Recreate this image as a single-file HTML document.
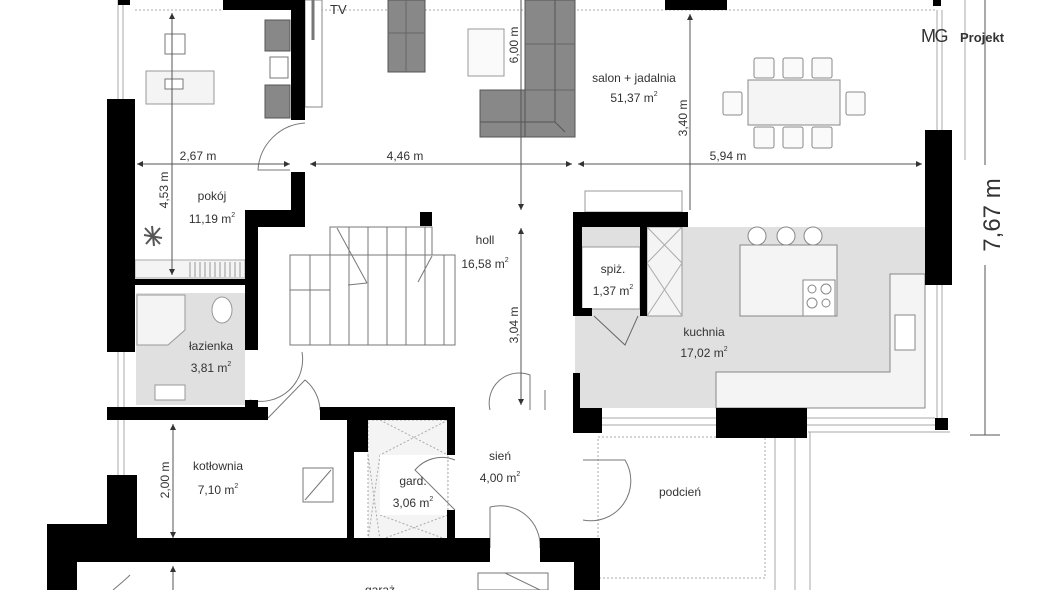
<!DOCTYPE html>
<html><head><meta charset="utf-8"><style>
html,body{margin:0;padding:0;background:#fff;width:1060px;height:590px;overflow:hidden}
svg{display:block}
text{font-family:"Liberation Sans",sans-serif;fill:#333}
</style></head><body>
<svg width="1060" height="590" viewBox="0 0 1060 590" xmlns="http://www.w3.org/2000/svg">
<rect x="575" y="227" width="350" height="181" fill="#e0e0e0"/>
<polygon points="890,274 925,274 925,408 716,408 716,372 890,372" fill="#f4f4f4" stroke="#888" stroke-width="1"/>
<rect x="136" y="293" width="109" height="112" fill="#e0e0e0"/>
<polygon points="137,295 185,295 185,330 168,345 137,345" fill="#f4f4f4" stroke="#999"/>
<ellipse cx="222" cy="310" rx="10" ry="13" fill="#fff" stroke="#999"/>
<rect x="155" y="385" width="30" height="15" fill="#fff" stroke="#999"/>
<g stroke="#aaa" fill="none" stroke-width="1">
<line x1="118" y1="0" x2="118" y2="99"/><line x1="123" y1="0" x2="123" y2="99"/>
<line x1="118" y1="352" x2="118" y2="475"/><line x1="124" y1="352" x2="124" y2="475"/>
<line x1="937" y1="10" x2="937" y2="130"/><line x1="942" y1="10" x2="942" y2="130"/>
<line x1="937" y1="285" x2="937" y2="420"/><line x1="942" y1="285" x2="942" y2="420"/>
<line x1="602" y1="418" x2="935" y2="418"/><line x1="602" y1="425" x2="935" y2="425"/>
<line x1="135" y1="10" x2="222" y2="10" stroke-dasharray="2,2"/>
<line x1="305" y1="10" x2="935" y2="10" stroke-dasharray="2,2"/>
<rect x="598" y="437" width="167" height="141" stroke-dasharray="2,2"/>
<line x1="775" y1="437" x2="775" y2="590"/><line x1="795" y1="432" x2="795" y2="590"/><line x1="810" y1="432" x2="810" y2="590"/>
<line x1="950" y1="432" x2="808" y2="432"/>
<line x1="965" y1="0" x2="965" y2="160"/>
</g>
<rect x="135" y="260" width="110" height="18" fill="#f4f4f4" stroke="#aaa"/>
<g stroke="#999"><line x1="190" y1="262" x2="190" y2="277"/><line x1="195" y1="262" x2="195" y2="277"/><line x1="200" y1="262" x2="200" y2="277"/><line x1="205" y1="262" x2="205" y2="277"/><line x1="210" y1="262" x2="210" y2="277"/><line x1="215" y1="262" x2="215" y2="277"/><line x1="220" y1="262" x2="220" y2="277"/><line x1="225" y1="262" x2="225" y2="277"/><line x1="230" y1="262" x2="230" y2="277"/><line x1="235" y1="262" x2="235" y2="277"/><line x1="240" y1="262" x2="240" y2="277"/></g>
<rect x="146" y="71" width="68" height="33" fill="#f4f4f4" stroke="#999"/>
<rect x="165" y="79" width="18" height="10" fill="#fff" stroke="#777"/>
<rect x="165" y="34" width="20" height="20" fill="#fff" stroke="#777"/>
<rect x="265" y="20" width="25" height="31" fill="#888" stroke="#555"/>
<rect x="270" y="57" width="18" height="21" fill="#fff" stroke="#777"/>
<rect x="265" y="85" width="25" height="33" fill="#888" stroke="#555"/>
<rect x="305" y="0" width="17" height="107" fill="#fff" stroke="#888"/>
<line x1="313" y1="0" x2="313" y2="40" stroke="#777" stroke-width="3"/>
<text x="330" y="14" font-size="13">TV</text>
<rect x="388" y="0" width="37" height="72" fill="#888" stroke="#555"/>
<line x1="406" y1="0" x2="406" y2="72" stroke="#666"/><line x1="388" y1="33" x2="425" y2="33" stroke="#666"/>
<rect x="468" y="29" width="36" height="47" fill="#fafafa" stroke="#999"/>
<rect x="480" y="90" width="95" height="47" fill="#888" stroke="#555"/>
<rect x="525" y="0" width="50" height="137" fill="#888" stroke="#555"/>
<line x1="525" y1="90" x2="575" y2="90" stroke="#666"/><line x1="555" y1="0" x2="555" y2="122" stroke="#555"/><line x1="555" y1="122" x2="565" y2="132" stroke="#555"/><line x1="480" y1="122" x2="555" y2="122" stroke="#555"/>
<line x1="525" y1="44" x2="575" y2="44" stroke="#666"/>
<rect x="748" y="80" width="92" height="45" fill="#f4f4f4" stroke="#888"/>
<g fill="#fafafa" stroke="#888">
<rect x="754" y="58" width="20" height="20" rx="2"/><rect x="783" y="58" width="20" height="20" rx="2"/><rect x="812" y="58" width="20" height="20" rx="2"/>
<rect x="754" y="127" width="20" height="21" rx="2"/><rect x="783" y="127" width="20" height="21" rx="2"/><rect x="812" y="127" width="20" height="21" rx="2"/>
<rect x="723" y="92" width="19" height="23" rx="2"/><rect x="846" y="92" width="19" height="23" rx="2"/>
</g>
<rect x="585" y="191" width="97" height="21" fill="#fff" stroke="#999"/>
<rect x="582" y="247" width="58" height="62" fill="#fff" stroke="#999"/>
<rect x="647" y="227" width="35" height="89" fill="#f4f4f4" stroke="#999"/>
<g stroke="#aaa"><line x1="647" y1="227" x2="682" y2="263"/><line x1="682" y1="227" x2="647" y2="263"/><line x1="647" y1="263" x2="682" y2="316"/><line x1="682" y1="263" x2="647" y2="316"/></g>
<rect x="740" y="245" width="97" height="71" fill="#f4f4f4" stroke="#888"/>
<rect x="803" y="280" width="32" height="36" fill="#fff" stroke="#888"/>
<g fill="#fff" stroke="#888"><circle cx="757" cy="236" r="9"/><circle cx="786" cy="236" r="9"/><circle cx="813" cy="236" r="9"/>
<circle cx="812" cy="289" r="4"/><circle cx="826" cy="289" r="5"/><circle cx="812" cy="303" r="5"/><circle cx="826" cy="303" r="4"/></g>
<rect x="895" y="315" width="20" height="35" fill="#fff" stroke="#888"/>
<path d="M594,316 L625,345 L638,316" fill="none" stroke="#666"/>
<g fill="none" stroke="#777">
<rect x="290" y="255" width="165" height="90"/>
<rect x="330" y="227" width="102" height="28"/>
<path d="M310,255V345M330,227V345M349,227V345M368,227V345M387,227V345M406,227V345M425,227V345M444,255V345"/>
<line x1="290" y1="290" x2="330" y2="290"/>
<line x1="337" y1="228" x2="367" y2="283"/><line x1="367" y1="283" x2="348" y2="285"/>
<line x1="432" y1="256" x2="418" y2="282"/>
</g>
<rect x="368" y="420" width="80" height="120" fill="#f4f4f4" stroke="#aaa" stroke-dasharray="2,2"/>
<g stroke="#aaa" stroke-dasharray="2,2"><line x1="380" y1="420" x2="448" y2="455"/><line x1="448" y1="420" x2="380" y2="455"/><line x1="380" y1="515" x2="448" y2="540"/><line x1="448" y1="515" x2="380" y2="540"/><line x1="368" y1="455" x2="380" y2="540"/><line x1="380" y1="455" x2="368" y2="540"/></g>
<rect x="380" y="455" width="67" height="60" fill="#fff"/>
<rect x="303" y="468" width="30" height="34" fill="#fff" stroke="#777"/><line x1="305" y1="500" x2="331" y2="470" stroke="#777"/>
<g fill="none" stroke="#777">
<path d="M305,123 A50,50 0 0 0 258,170 L290,170"/>
<path d="M250,400 A42,42 0 0 0 302,352"/>
<path d="M268,418 L305,380 A40,40 0 0 1 320,410"/>
<path d="M490,410 A30,30 0 0 1 530,375 L530,410"/>
<path d="M545,410 L545,390"/>
<path d="M455,460 A35,35 0 0 0 415,470 L455,510"/>
<path d="M583,460 L625,460 A40,40 0 0 1 583,520"/>
<path d="M490,507 L490,548 M490,507 A40,40 0 0 1 540,548"/>
<rect x="478" y="573" width="70" height="17"/>
<line x1="505" y1="573" x2="540" y2="590"/>
<path d="M113,590 Q125,580 130,575"/>
</g>
<g fill="#000">
<rect x="118" y="0" width="12" height="5"/>
<rect x="223" y="0" width="82" height="10"/>
<rect x="291" y="0" width="14" height="120"/>
<rect x="665" y="0" width="62" height="10"/>
<rect x="933" y="0" width="8" height="6"/>
<rect x="107" y="99" width="28" height="253"/>
<rect x="291" y="172" width="14" height="55"/>
<rect x="245" y="210" width="60" height="17"/>
<rect x="245" y="210" width="13" height="140"/>
<rect x="420" y="212" width="12" height="14"/>
<rect x="135" y="279" width="110" height="6"/>
<rect x="107" y="407" width="161" height="13"/>
<rect x="245" y="400" width="13" height="10"/>
<rect x="320" y="407" width="135" height="13"/>
<rect x="347" y="407" width="21" height="45"/>
<rect x="347" y="407" width="7" height="133"/>
<rect x="447" y="407" width="8" height="48"/>
<rect x="447" y="510" width="8" height="30"/>
<rect x="107" y="475" width="30" height="63"/>
<rect x="47" y="524" width="90" height="14"/>
<rect x="47" y="524" width="30" height="66"/>
<rect x="47" y="538" width="443" height="24"/>
<rect x="540" y="538" width="60" height="24"/>
<rect x="574" y="538" width="26" height="52"/>
<rect x="925" y="130" width="27" height="155"/>
<rect x="573" y="212" width="115" height="15"/>
<rect x="573" y="212" width="9" height="104"/>
<rect x="573" y="308" width="19" height="8"/>
<rect x="640" y="227" width="7" height="89"/>
<rect x="573" y="373" width="7" height="37"/>
<rect x="573" y="408" width="29" height="25"/>
<rect x="716" y="408" width="91" height="30"/>
<rect x="935" y="418" width="13" height="12"/>
</g>
<g stroke="#555" stroke-width="1" fill="none">
<line x1="137" y1="164" x2="290" y2="164"/><line x1="310" y1="164" x2="572" y2="164"/><line x1="578" y1="164" x2="922" y2="164"/>
<line x1="172" y1="13" x2="172" y2="275"/>
<line x1="521" y1="0" x2="521" y2="210"/><line x1="521" y1="228" x2="521" y2="405"/>
<line x1="690" y1="14" x2="690" y2="210"/>
<line x1="173" y1="424" x2="173" y2="538"/><line x1="173" y1="566" x2="173" y2="590"/>
<line x1="985" y1="0" x2="985" y2="165"/><line x1="985" y1="265" x2="985" y2="435"/><line x1="970" y1="435" x2="1000" y2="435"/>
</g>
<g fill="#333">
<polygon points="137,164 143,161 143,167"/><polygon points="290,164 284,161 284,167"/><polygon points="310,164 316,161 316,167"/>
<polygon points="572,164 566,161 566,167"/><polygon points="578,164 584,161 584,167"/><polygon points="922,164 916,161 916,167"/>
<polygon points="521,210 518,204 524,204"/><polygon points="521,228 518,234 524,234"/><polygon points="521,405 518,399 524,399"/>
<polygon points="690,14 687,20 693,20"/>
<polygon points="172,13 169,19 175,19"/><polygon points="172,275 169,269 175,269"/>
<polygon points="173,424 170,430 176,430"/><polygon points="173,538 170,532 176,532"/><polygon points="173,566 170,572 176,572"/>
</g>
<g font-size="12" text-anchor="middle">
<text x="198" y="160">2,67 m</text>
<text x="405" y="160">4,46 m</text>
<text x="728" y="160">5,94 m</text>
<text transform="translate(168,190) rotate(-90)">4,53 m</text>
<text transform="translate(518,45) rotate(-90)">6,00 m</text>
<text transform="translate(518,325) rotate(-90)">3,04 m</text>
<text transform="translate(687,118) rotate(-90)">3,40 m</text>
<text transform="translate(169,480) rotate(-90)">2,00 m</text>
<text x="634" y="82">salon + jadalnia</text>
<text x="634" y="102">51,37 m<tspan dy="-6" font-size="7">2</tspan></text>
<text x="212" y="200">pokój</text>
<text x="212" y="223">11,19 m<tspan dy="-6" font-size="7">2</tspan></text>
<text x="485" y="244">holl</text>
<text x="485" y="268">16,58 m<tspan dy="-6" font-size="7">2</tspan></text>
<text x="613" y="273">spiż.</text>
<text x="613" y="295">1,37 m<tspan dy="-6" font-size="7">2</tspan></text>
<text x="704" y="336">kuchnia</text>
<text x="704" y="357">17,02 m<tspan dy="-6" font-size="7">2</tspan></text>
<text x="211" y="350">łazienka</text>
<text x="211" y="372">3,81 m<tspan dy="-6" font-size="7">2</tspan></text>
<text x="218" y="470">kotłownia</text>
<text x="218" y="494">7,10 m<tspan dy="-6" font-size="7">2</tspan></text>
<text x="413" y="485">gard.</text>
<text x="413" y="507">3,06 m<tspan dy="-6" font-size="7">2</tspan></text>
<text x="500" y="460">sień</text>
<text x="500" y="482">4,00 m<tspan dy="-6" font-size="7">2</tspan></text>
<text x="680" y="496">podcień</text>
<text x="380" y="594">garaż</text>
</g>
<text transform="translate(1000,215) rotate(-90)" font-size="24" text-anchor="middle" fill="#222">7,67 m</text>
<text x="921" y="42" font-size="18" fill="#000" style="letter-spacing:-1.5px">MG</text>
<text x="960" y="42" font-size="13" fill="#000" font-weight="bold">Projekt</text>
<g stroke="#555" stroke-width="2"><line x1="144" y1="235" x2="162" y2="238"/><line x1="152" y1="226" x2="154" y2="246"/><line x1="145" y1="228" x2="160" y2="244"/><line x1="160" y1="228" x2="146" y2="244"/></g>
</svg>
</body></html>
